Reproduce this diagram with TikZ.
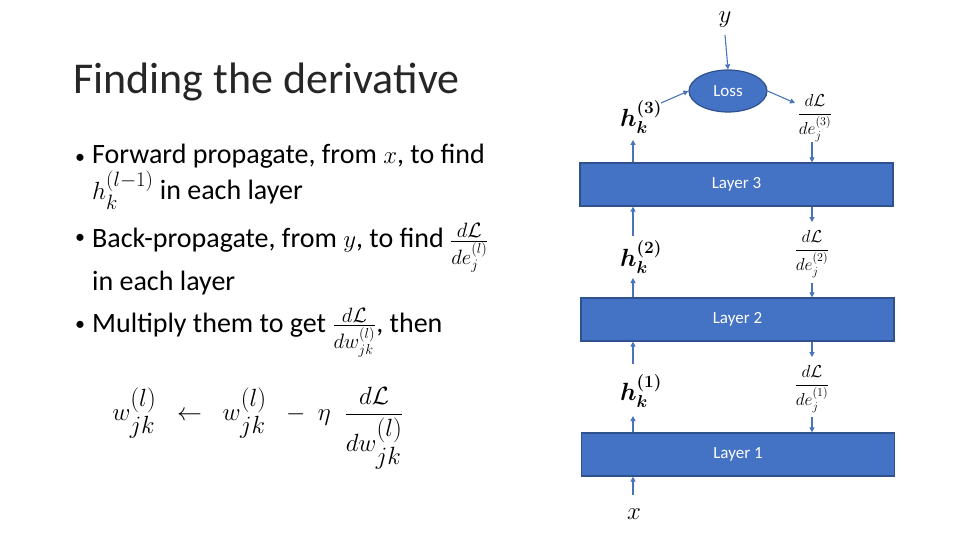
\documentclass[tikz,border=0pt]{standalone}
\usepackage{fontspec}
\usepackage{amsmath,bm}
\setmainfont{Carlito}
\usetikzlibrary{shapes.geometric,arrows.meta}
\definecolor{boxfill}{HTML}{4472C4}
\definecolor{boxline}{HTML}{2F528F}
\definecolor{arrowc}{HTML}{4A74B8}
\definecolor{titlec}{HTML}{262626}
\tikzset{
  layerbox/.style={draw=boxline, line width=1.2pt, fill=boxfill, text=white, minimum width=313pt, minimum height=43pt, font=\fontsize{17}{19}\selectfont, inner sep=0pt},
  lossnode/.style={ellipse, draw=boxline, line width=1.2pt, fill=boxfill, text=white, minimum width=78pt, minimum height=42pt, font=\fontsize{17}{19}\selectfont, inner sep=0pt},
  conn/.style={draw=arrowc, line width=1.1pt, -{Triangle[length=5pt,width=5pt]}},
  bigmath/.style={font=\fontsize{27}{30}\selectfont, inner sep=0pt},
  fracmath/.style={font=\fontsize{18}{20}\selectfont, inner sep=0pt},
  bullettext/.style={font=\fontsize{28}{32}\selectfont, anchor=base west, inner sep=0pt},
  bulletdot/.style={font=\fontsize{20}{24}\selectfont, anchor=base west, inner sep=0pt},
}
\begin{document}
\begin{tikzpicture}[x=1pt,y=-1pt]
\useasboundingbox (0,0) rectangle (960,540);
% title
\node[font=\fontsize{44}{50}\selectfont, text=titlec, anchor=base west, inner sep=0pt] (title) at (73,94) {Finding the derivative};
% bullets
\node[bulletdot] (b1) at (75,164) {•};
\node[bullettext, align=left] (l1) at (92,200) {Forward propagate, from $x$, to find\\[1pt] $h_k^{(l-1)}$ in each layer};
\node[bulletdot] (b2) at (75,243) {•};
\node[bullettext, align=left] (l3) at (92,290) {Back-propagate, from $y$, to find $\frac{d\mathcal{L}}{de_j^{(l)}}$\\[-3pt] in each layer};
\node[bulletdot] (b3) at (75,330) {•};
\node[bullettext] (l5) at (92,332) {Multiply them to get $\frac{d\mathcal{L}}{dw_{jk}^{(l)}}$, then};
\node[font=\fontsize{36}{40}\selectfont, inner sep=0pt] (eq) at (258,428) {$w_{jk}^{(l)} \mathrel{\;\;\leftarrow\;\;} w_{jk}^{(l)} \mathbin{\;\;-\;} \eta\;\;\dfrac{d\mathcal{L}}{dw_{jk}^{(l)}}$};
% diagram
\node[layerbox] (L3) at (736.5,184.5) {Layer 3};
\node[layerbox] (L2) at (737.5,319.5) {Layer 2};
\node[layerbox] (L1) at (738,454.5) {Layer 1};
\node[lossnode] (loss) at (728,91) {Loss};
\node[bigmath] (y) at (725,20) {$y$};
\node[bigmath] (x) at (634,514) {$x$};
\node[bigmath] (h3) at (641,117) {$\bm{h_k^{(3)}}$};
\node[bigmath] (h2) at (641,257) {$\bm{h_k^{(2)}}$};
\node[bigmath] (h1) at (641,391) {$\bm{h_k^{(1)}}$};
\node[fracmath] (d3) at (815,118) {$\dfrac{d\mathcal{L}}{de_j^{(3)}}$};
\node[fracmath] (d2) at (812,254) {$\dfrac{d\mathcal{L}}{de_j^{(2)}}$};
\node[fracmath] (d1) at (812,389) {$\dfrac{d\mathcal{L}}{de_j^{(1)}}$};
% coordinates
\coordinate (yb) at (725,35);
\coordinate (h3e) at (661,103);
\coordinate (d3s) at (795,103);
\coordinate (h3b) at (633,140);
\coordinate (h2t) at (633,236);
\coordinate (h2b) at (633,278);
\coordinate (h1t) at (633,364);
\coordinate (h1b) at (633,416);
\coordinate (xt) at (633,495);
\coordinate (d3b) at (812,142);
\coordinate (d2t) at (812,222);
\coordinate (d2b) at (812,283);
\coordinate (d1t) at (812,357);
\coordinate (d1b) at (812,417);
% connectors
\draw[conn] (yb) -- (loss.north);
\draw[conn] (h3e) -- (loss.west);
\draw[conn] (loss.east) -- (d3s);
\draw[conn] (L3.north -| h3b) -- (h3b);
\draw[conn] (h2t) -- (L3.south -| h2t);
\draw[conn] (L2.north -| h2b) -- (h2b);
\draw[conn] (h1t) -- (L2.south -| h1t);
\draw[conn] (L1.north -| h1b) -- (h1b);
\draw[conn] (xt) -- (L1.south -| xt);
\draw[conn] (d3b) -- (L3.north -| d3b);
\draw[conn] (L3.south -| d2t) -- (d2t);
\draw[conn] (d2b) -- (L2.north -| d2b);
\draw[conn] (L2.south -| d1t) -- (d1t);
\draw[conn] (d1b) -- (L1.north -| d1b);
\end{tikzpicture}
\end{document}
